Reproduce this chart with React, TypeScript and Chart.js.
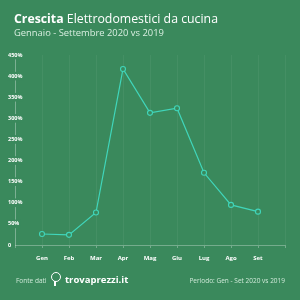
import React, { useEffect, useRef } from "react";
import { Chart, registerables } from "chart.js";

Chart.register(...registerables);

const months = ["", "Gen", "Feb", "Mar", "Apr", "Mag", "Giu", "Lug", "Ago", "Set", ""];
const growth = [null, 26, 24, 77, 417, 313, 324, 171, 95, 79, null];
const yTicks = [0, 50, 100, 150, 200, 250, 300, 350, 400, 450];

const BG = "#3a895c";
const LINE = "#40d6bb";
const FONT = "'Open Sans', sans-serif";

export default function App() {
  const ref = useRef<HTMLCanvasElement | null>(null);

  useEffect(() => {
    if (!ref.current) return;
    const chart = new Chart(ref.current, {
      type: "line",
      data: {
        labels: months,
        datasets: [
          {
            data: growth as any,
            borderColor: LINE,
            borderWidth: 1.2,
            pointRadius: 2.5,
            pointBorderWidth: 1.1,
            pointBackgroundColor: BG,
            pointBorderColor: LINE,
            tension: 0,
            spanGaps: false,
          },
        ],
      },
      options: {
        animation: false,
        responsive: false,
        maintainAspectRatio: false,
        layout: { padding: { left: 15, right: 15, top: 55, bottom: 0 } },
        plugins: { legend: { display: false }, tooltip: { enabled: false } },
        scales: {
          x: {
            type: "category",
            offset: false,
            grid: {
              color: "rgba(255,255,255,0.05)",
              tickColor: "rgba(255,255,255,0.3)",
              tickLength: 3,
            },
            border: { color: "rgba(255,255,255,0.3)", width: 1 },
            ticks: {
              color: "#ffffff",
              font: { family: FONT, size: 6, weight: "bold" },
              padding: 7,
              maxRotation: 0,
              autoSkip: false,
            },
            afterFit: (s: any) => {
              s.height = 55;
            },
          },
          y: {
            min: 0,
            max: 450,
            afterBuildTicks: (s: any) => {
              s.ticks = yTicks.map((v) => ({ value: v }));
            },
            grid: { display: false, drawTicks: false },
            border: { color: "rgba(255,255,255,0.3)", width: 1 },
            ticks: {
              mirror: true,
              padding: -7,
              color: "#ffffff",
              font: { family: FONT, size: 5.5, weight: "bold" },
              showLabelBackdrop: true,
              backdropColor: BG,
              backdropPadding: 1,
              callback: (v: any) => (v === 0 ? "0" : v + "%"),
            },
            afterFit: (s: any) => {
              s.width = 0;
            },
          },
        },
      },
    });
    return () => chart.destroy();
  }, []);

  return (
    <div
      style={{
        position: "fixed",
        left: 0,
        top: 0,
        width: 300,
        height: 300,
        background: BG,
        overflow: "hidden",
        fontFamily: FONT,
      }}
    >
      <canvas ref={ref} width={300} height={300} style={{ position: "absolute", left: 0, top: 0 }} />
      <div
        style={{
          position: "absolute",
          left: 14,
          top: 11,
          color: "#ffffff",
          fontSize: 12.3,
          whiteSpace: "nowrap",
          lineHeight: "15px",
        }}
      >
        <b>Crescita</b> Elettrodomestici da cucina
      </div>
      <div
        style={{
          position: "absolute",
          left: 14,
          top: 27,
          color: "#d8eee0",
          fontSize: 9.4,
          whiteSpace: "nowrap",
          lineHeight: "12px",
        }}
      >
        Gennaio - Settembre 2020 vs 2019
      </div>
      <div
        style={{
          position: "absolute",
          left: 16,
          top: 276,
          color: "#cfe9d8",
          fontSize: 6.5,
          whiteSpace: "nowrap",
          lineHeight: "9px",
        }}
      >
        Fonte dati
      </div>
      <div
        style={{
          position: "absolute",
          left: 51,
          top: 272,
          width: 10,
          height: 10,
          borderRadius: "50%",
          border: "1.5px solid #ffffff",
          boxSizing: "border-box",
        }}
      />
      <div
        style={{
          position: "absolute",
          left: 54,
          top: 281,
          width: 1.5,
          height: 5,
          background: "#ffffff",
        }}
      />
      <div
        style={{
          position: "absolute",
          left: 65,
          top: 273,
          color: "#ffffff",
          fontSize: 9.5,
          fontWeight: "bold",
          whiteSpace: "nowrap",
          lineHeight: "13px",
        }}
      >
        trovaprezzi.it
      </div>
      <div
        style={{
          position: "absolute",
          right: 15,
          top: 276,
          color: "#cfe9d8",
          fontSize: 6.5,
          whiteSpace: "nowrap",
          lineHeight: "9px",
        }}
      >
        Periodo: Gen - Set 2020 vs 2019
      </div>
    </div>
  );
}
